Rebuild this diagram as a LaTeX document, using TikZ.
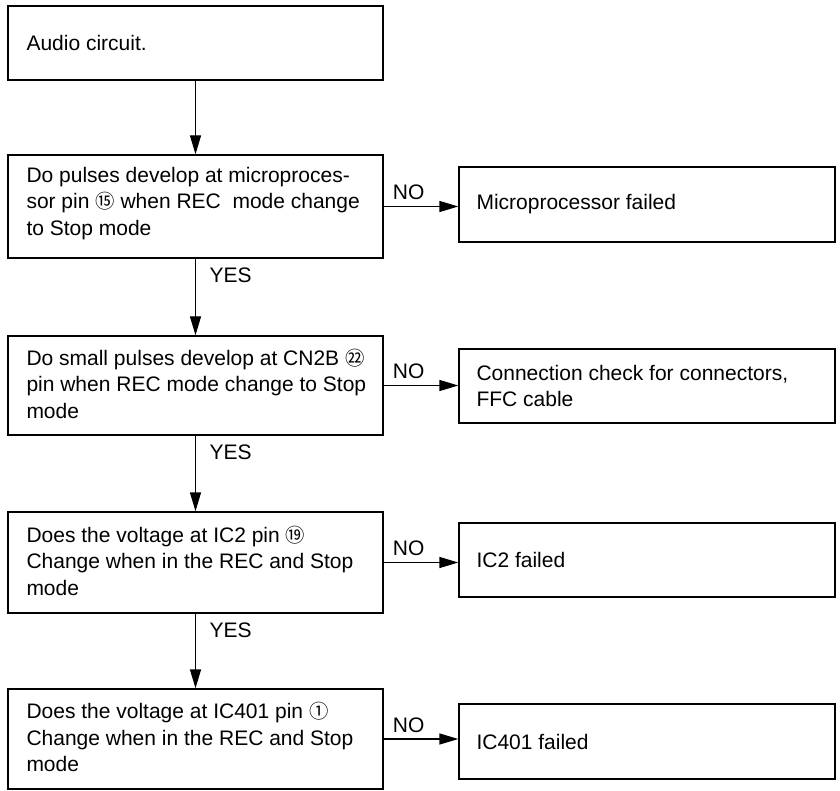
\documentclass[tikz,border=0pt]{standalone}
\usepackage{fontspec}
\setmainfont{Liberation Sans}
\newfontfamily\cjk[Scale=0.92]{Noto Sans CJK SC}
\usetikzlibrary{arrows.meta}
\tikzset{
  lbox/.style={draw, line width=1.4pt, minimum width=375pt, inner sep=0pt},
  rbox/.style={draw, line width=1.4pt, minimum width=376pt, inner sep=0pt},
  txt/.style={anchor=west, align=left, inner sep=0pt, font=\fontsize{21}{26.5}\selectfont},
  arr/.style={line width=1.4pt, -{Triangle[length=19pt,width=11pt]}},
  lbl/.style={inner sep=0pt, font=\fontsize{21}{26.5}\selectfont}
}
\begin{document}
\begin{tikzpicture}[x=1pt,y=-1pt]
\useasboundingbox (0,0) rectangle (840,791);
\fill[white] (0,0) rectangle (840,791);
% left column boxes
\node[lbox, minimum height=74pt] (b1) at (195.5,43) {};
\node[lbox, minimum height=103pt] (b2) at (195.5,206.5) {};
\node[lbox, minimum height=99pt] (b3) at (195.5,385.5) {};
\node[lbox, minimum height=101pt] (b4) at (195.5,562.5) {};
\node[lbox, minimum height=100pt] (b5) at (195.5,739) {};
% left column texts
\node[txt] (t1) at ([xshift=19pt]b1.west) {Audio circuit.};
\node[txt] (t2) at ([xshift=19pt,yshift=3pt]b2.west) {Do pulses develop at microproces-\\sor pin {\cjk ⑮} when REC\ \ mode change\\to Stop mode};
\node[txt] (t3) at ([xshift=19pt,yshift=2pt]b3.west) {Do small pulses develop at CN2B {\cjk ㉒}\\pin when REC mode change to Stop\\mode};
\node[txt] (t4) at ([xshift=19pt,yshift=2pt]b4.west) {Does the voltage at IC2 pin {\cjk ⑲}\\Change when in the REC and Stop\\mode};
\node[txt] (t5) at ([xshift=19pt,yshift=2pt]b5.west) {Does the voltage at IC401 pin {\cjk ①}\\Change when in the REC and Stop\\mode};
% right column boxes
\node[rbox, minimum height=75pt] (r1) at (647,204.5) {};
\node[rbox, minimum height=74pt] (r2) at (647,386) {};
\node[rbox, minimum height=74pt] (r3) at (647,560) {};
\node[rbox, minimum height=75pt] (r4) at (647,741.5) {};
% right column texts
\node[txt] (s1) at ([xshift=18pt]r1.west) {Microprocessor failed};
\node[txt] (s2) at ([xshift=18pt]r2.west) {Connection check for connectors,\\FFC cable};
\node[txt] (s3) at ([xshift=18pt]r3.west) {IC2 failed};
\node[txt] (s4) at ([xshift=18pt]r4.west) {IC401 failed};
% vertical arrows
\draw[arr] (b1.south) -- (b2.north);
\draw[arr] (b2.south) -- (b3.north);
\draw[arr] (b3.south) -- (b4.north);
\draw[arr] (b4.south) -- (b5.north);
% horizontal arrows
\draw[arr] (b2.east) -- (b2.east -| r1.west);
\draw[arr] (b3.east) -- (b3.east -| r2.west);
\draw[arr] (b4.east) -- (b4.east -| r3.west);
\draw[arr] (b5.east) -- (b5.east -| r4.west);
% labels
\node[lbl, anchor=north west] (y1) at ([xshift=14pt,yshift=-9pt]b2.south) {YES};
\node[lbl, anchor=north west] (y2) at ([xshift=14pt,yshift=-9pt]b3.south) {YES};
\node[lbl, anchor=north west] (y3) at ([xshift=14pt,yshift=-9pt]b4.south) {YES};
\node[lbl, anchor=base west] (n1) at ([xshift=9pt,yshift=7pt]b2.east) {NO};
\node[lbl, anchor=base west] (n2) at ([xshift=9pt,yshift=7pt]b3.east) {NO};
\node[lbl, anchor=base west] (n3) at ([xshift=9pt,yshift=7pt]b4.east) {NO};
\node[lbl, anchor=base west] (n4) at ([xshift=9pt,yshift=7pt]b5.east) {NO};
\end{tikzpicture}
\end{document}
